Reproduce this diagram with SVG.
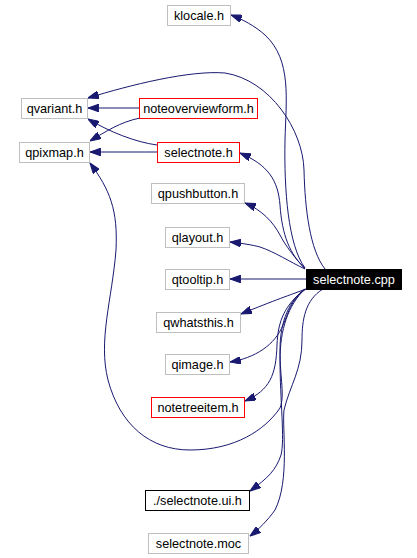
<svg xmlns="http://www.w3.org/2000/svg" width="417" height="558" viewBox="0 0 417 558">
<style>
rect.n{fill:#fff;stroke:#bfbfbf;stroke-width:1}
rect.r{fill:#fff;stroke:#ff0000;stroke-width:1}
rect.b{fill:#fff;stroke:#000;stroke-width:1}
rect.k{fill:#000;stroke:#000;stroke-width:1}
text{font-family:"Liberation Sans",Arial,sans-serif;font-size:12.7px;text-anchor:middle;fill:#000}
text.w{fill:#fff}
.e path{fill:none;stroke:#191970;stroke-width:1;marker-end:url(#ah)}
</style>
<defs>
<marker id="ah" viewBox="0 0 10 7" refX="10" refY="3.5" markerUnits="userSpaceOnUse" markerWidth="11" markerHeight="7.5" orient="auto">
<path d="M0,0 L10,3.5 L0,7 z" fill="#191970" stroke="#191970"/>
</marker>
</defs>
<rect width="417" height="558" fill="#fff"/>
<g class="e" id="edges">
<path d="M305,268 C288,245 284,190 285,140 C286,100 292,60 265,35 C255,26 242,19 231,15"/>
<path d="M325,269 C310,250 305,210 304,170 C303,130 270,80 225,73 C190,70 130,85 88,98"/>
<path d="M139,108 L88,108"/>
<path d="M140,118 C120,122 105,132 90,141"/>
<path d="M157,145 C135,142 110,132 88,119"/>
<path d="M157,152 L90,152"/>
<path d="M305,289 C290,300 280,320 280,350 C280,380 285,395 280,408 C265,430 235,450 190,450 C150,450 120,425 108,380 C98,340 112,300 116,250 C118,210 110,190 90,163"/>
<path d="M305,268 C290,255 282,235 280,205 C278,180 268,165 240,153"/>
<path d="M305,269 C295,258 285,245 280,235 C273,222 262,210 245,203"/>
<path d="M305,269 C290,262 275,252 260,247 C253,245 240,243 230,242"/>
<path d="M306,279 L230,279"/>
<path d="M306,289 C290,295 275,300 241,314"/>
<path d="M306,289 C290,300 288,315 283,325 C275,345 255,358 230,362"/>
<path d="M305,289 C285,305 278,320 277,345 C276,375 270,390 245,401"/>
<path d="M305,289 C288,305 280,330 280,360 C280,400 285,440 281,455 C276,470 268,478 250,491"/>
<path d="M323,289 C305,300 302,320 302,340 C302,370 290,385 284,410 C282,430 290,480 275,510 C268,520 258,530 250,536"/>
</g>
<g id="klocale"><rect class="n" x="167.5" y="5.5" width="63" height="20"/><text x="199" y="20">klocale.h</text></g>
<g id="qvariant"><rect class="n" x="21.5" y="98.5" width="66" height="20"/><text x="54.5" y="113">qvariant.h</text></g>
<g id="noteoverviewform"><rect class="r" x="139.5" y="98.5" width="118" height="20"/><text x="198.5" y="113">noteoverviewform.h</text></g>
<g id="qpixmap"><rect class="n" x="19.5" y="142.5" width="70" height="20"/><text x="54.5" y="157">qpixmap.h</text></g>
<g id="selectnote_h"><rect class="r" x="157.5" y="142.5" width="82" height="20"/><text x="198.5" y="157">selectnote.h</text></g>
<g id="qpushbutton"><rect class="n" x="151.5" y="183.5" width="93" height="20"/><text x="198" y="198">qpushbutton.h</text></g>
<g id="qlayout"><rect class="n" x="165.5" y="227.5" width="64" height="20"/><text x="197.5" y="242">qlayout.h</text></g>
<g id="qtooltip"><rect class="n" x="165.5" y="269.5" width="64" height="20"/><text x="197.5" y="284">qtooltip.h</text></g>
<g id="qwhatsthis"><rect class="n" x="156.5" y="312.5" width="84" height="20"/><text x="198.5" y="327">qwhatsthis.h</text></g>
<g id="qimage"><rect class="n" x="165.5" y="354.5" width="64" height="20"/><text x="197.5" y="369">qimage.h</text></g>
<g id="notetreeitem"><rect class="r" x="151.5" y="397.5" width="93" height="20"/><text x="198" y="412">notetreeitem.h</text></g>
<g id="selectnote_cpp"><rect class="k" x="306.5" y="269.5" width="95" height="20"/><text class="w" x="354" y="284">selectnote.cpp</text></g>
<g id="selectnote_ui"><rect class="b" x="145.5" y="490.5" width="104" height="20"/><text x="197.5" y="505">./selectnote.ui.h</text></g>
<g id="selectnote_moc"><rect class="n" x="148.5" y="533.5" width="100" height="20"/><text x="198.5" y="548">selectnote.moc</text></g>
</svg>
